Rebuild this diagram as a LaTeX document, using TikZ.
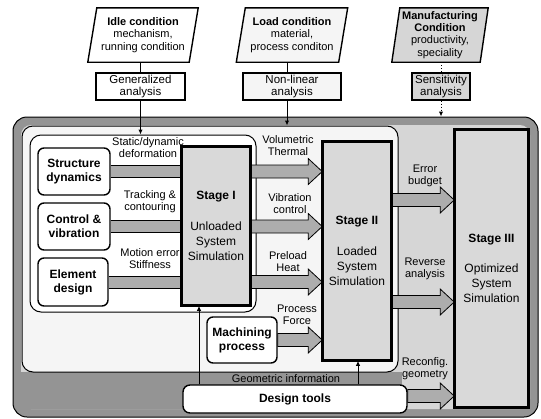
\documentclass[tikz,border=0pt]{standalone}
\usepackage{fontspec}
\setmainfont{Liberation Sans}
\usetikzlibrary{arrows.meta,calc}

\definecolor{bandgray}{gray}{0.58}
\definecolor{fieldgray}{gray}{0.84}
\definecolor{stagegray}{gray}{0.85}
\definecolor{arrowgray}{gray}{0.68}
\definecolor{palegray}{gray}{0.96}

% fat block arrow between two points on the same height
\newcommand\fatlink[2]{%
  \draw[fatarrow] let \p1=(#1), \p2=(#2) in
    (\x1,\y1+6.5pt) -- (\x2-14pt,\y1+6.5pt) -- (\x2-14pt,\y1+13pt) -- (\x2,\y1)
    -- (\x2-14pt,\y1-13pt) -- (\x2-14pt,\y1-6.5pt) -- (\x1,\y1-6.5pt) -- cycle;}
% headless band between two boxes
\newcommand\bandlink[2]{%
  \fill[arrowgray] let \p1=(#1), \p2=(#2) in (\x1,\y1-6pt) rectangle (\x2,\y1+6pt);
  \draw[line width=0.8pt] let \p1=(#1), \p2=(#2) in
    (\x1,\y1+6pt) -- (\x2,\y1+6pt) (\x1,\y1-6pt) -- (\x2,\y1-6pt);}

\begin{document}
\begin{tikzpicture}[x=1pt,y=-1pt,
  lbl/.style={font=\fontsize{11}{12}\selectfont, align=center, inner sep=0pt},
  toptext/.style={font=\fontsize{11}{12.3}\selectfont, align=center, inner sep=0pt},
  anbox/.style={draw, line width=1.4pt, inner sep=0pt, align=center,
    font=\fontsize{11.5}{12}\selectfont, minimum height=27},
  stagebox/.style={draw, line width=1.6pt, fill=stagegray, inner sep=0pt, align=center,
    font=\fontsize{12}{15}\selectfont},
  srcbox/.style={draw, line width=1.4pt, fill=white, rounded corners=6pt, inner sep=0pt,
    align=center, font=\fontsize{12}{14}\selectfont\bfseries},
  groupbox/.style={draw, line width=1pt, rounded corners=11pt, inner sep=0pt},
  fatarrow/.style={draw, line width=0.8pt, fill=arrowgray},
  thinarrow/.style={line width=1pt, -{Latex[length=5pt,width=4.5pt]}},
  plainline/.style={line width=1pt},
]
\useasboundingbox (0,0) rectangle (541,418);

% ---- condition inputs (parallelograms drawn around their text areas) ----
\node[toptext, minimum width=101, minimum height=54] (idle) at (143,35) {};
\draw[line width=1.4pt, fill=white] ([xshift=4.5pt]idle.north west) -- ([xshift=4.5pt]idle.north east)
  -- ([xshift=-4.5pt]idle.south east) -- ([xshift=-4.5pt]idle.south west) -- cycle;
\node[toptext] at (idle) {\textbf{Idle condition}\\mechanism,\\running condition};

\node[toptext, minimum width=102, minimum height=54] (load) at (292,35) {};
\draw[line width=1.4pt, fill=palegray] ([xshift=4.5pt]load.north west) -- ([xshift=4.5pt]load.north east)
  -- ([xshift=-4.5pt]load.south east) -- ([xshift=-4.5pt]load.south west) -- cycle;
\node[toptext] at (load) {\textbf{Load condition}\\material,\\process conditon};

\node[toptext, minimum width=88, minimum height=54] (manu) at (440,35) {};
\draw[line width=1.4pt, fill=fieldgray] ([xshift=4pt]manu.north west) -- ([xshift=4pt]manu.north east)
  -- ([xshift=-4pt]manu.south east) -- ([xshift=-4pt]manu.south west) -- cycle;
\node[toptext] at (manu) {\textbf{Manufacturing}\\\textbf{Condition}\\productivity,\\speciality};

\node[anbox, fill=white, minimum width=89] (gen) at (140.5,86.5) {Generalized\\analysis};
\node[anbox, fill=palegray, minimum width=98] (nonlin) at (292,86.5) {Non-linear\\analysis};
\node[anbox, fill=fieldgray, minimum width=58] (sens) at (441,86.5) {Sensitivity\\analysis};

% ---- framework background ----
\node[draw, line width=1pt, fill=bandgray, rounded corners=14pt, inner sep=0pt,
  minimum width=525, minimum height=300] (frame) at (275.5,267) {};
\fill[fieldgray, rounded corners=10pt] (21,125) rectangle (530,409);
\fill[bandgray] (21,372) rectangle (402,409);
\node[groupbox, fill=palegray, minimum width=376, minimum height=246] (g2) at (210,249) {};
\node[groupbox, fill=white, minimum width=226, minimum height=177] (g1) at (143,223.5) {};

% ---- simulation stages ----
\node[stagebox, minimum width=68, minimum height=158] (s1) at (216,226)
  {\textbf{Stage I}\\[16pt]Unloaded\\System\\Simulation};
\node[stagebox, minimum width=68, minimum height=218] (s2) at (357,251)
  {\textbf{Stage II}\\[16pt]Loaded\\System\\Simulation};
\node[stagebox, minimum width=73, minimum height=277] (s3) at (491.5,268.5)
  {\textbf{Stage III}\\[15pt]Optimized\\System\\Simulation};

% ---- source boxes ----
\node[srcbox, minimum width=72, minimum height=47] (sd) at (74,171.5) {Structure\\dynamics};
\node[srcbox, minimum width=72, minimum height=47] (cv) at (74,226.5) {Control \&\\vibration};
\node[srcbox, minimum width=70, minimum height=48] (ed) at (73,282) {Element\\design};
\node[srcbox, minimum width=70, minimum height=46] (mp) at (242,340) {Machining\\process};
\node[srcbox, rounded corners=7pt, minimum width=224, minimum height=28] (dt) at (295,399) {Design tools};

% ---- row heights of the stage links ----
\coordinate (eb) at (0,200);
\coordinate (ra) at (0,302);
\coordinate (rg) at (0,396);
\coordinate (d1) at (199,0);
\coordinate (d2) at (358,0);

% ---- bands into stage I ----
\bandlink{sd.east}{s1.west |- sd.east}
\bandlink{cv.east}{s1.west |- cv.east}
\bandlink{ed.east}{s1.west |- ed.east}

% ---- block arrows ----
\fatlink{s1.east |- sd.east}{s2.west |- sd.east}
\fatlink{s1.east |- cv.east}{s2.west |- cv.east}
\fatlink{s1.east |- ed.east}{s2.west |- ed.east}
\fatlink{mp.east}{s2.west |- mp.east}
\fatlink{s2.east |- eb}{s3.west |- eb}
\fatlink{s2.east |- ra}{s3.west |- ra}
\fatlink{dt.east |- rg}{s3.west |- rg}

% redraw stage borders over the arrow tails
\draw[line width=1.6pt] (s1.north west) rectangle (s1.south east);
\draw[line width=1.6pt] (s2.north west) rectangle (s2.south east);
\draw[line width=1.6pt] (s3.north west) rectangle (s3.south east);

% ---- condition flows ----
\draw[plainline] (gen.north |- idle.south) -- (gen.north);
\draw[thinarrow] (gen.south) -- (gen.south |- g1.north);
\draw[plainline] ([xshift=-5pt]load.south) -- ([xshift=-5pt]nonlin.north);
\draw[thinarrow] ([xshift=-5pt]nonlin.south) -- ([xshift=-5pt]nonlin.south |- g2.north);
\draw[plainline, dotted] (sens.north |- manu.south) -- (sens.north);
\draw[thinarrow, dotted] (sens.south) -- (sens.south |- frame.north);

% ---- design tool feedback ----
\draw[thinarrow] (dt.north -| d1) -- (s1.south -| d1);
\draw[thinarrow] (dt.north -| d2) -- (s2.south -| d2);

% ---- labels ----
\node[lbl] (l1) at (148,148) {Static/dynamic\\deformation};
\node[lbl] (l2) at (150,202) {Tracking \&\\contouring};
\node[lbl] (l3) at (150,259) {Motion error\\Stiffness};
\node[lbl] (l4) at (288,146) {Volumetric\\Thermal};
\node[lbl] (l5) at (290,204) {Vibration\\control};
\node[lbl] (l6) at (288,262) {Preload\\Heat};
\node[lbl] (l7) at (297,315) {Process\\Force};
\node[lbl] (l8) at (425,176) {Error\\budget};
\node[lbl] (l9) at (425,269) {Reverse\\analysis};
\node[lbl] (l10) at (425,369) {Reconfig.\\geometry};
\node[lbl] (l11) at (286,379) {Geometric information};
\end{tikzpicture}
\end{document}
